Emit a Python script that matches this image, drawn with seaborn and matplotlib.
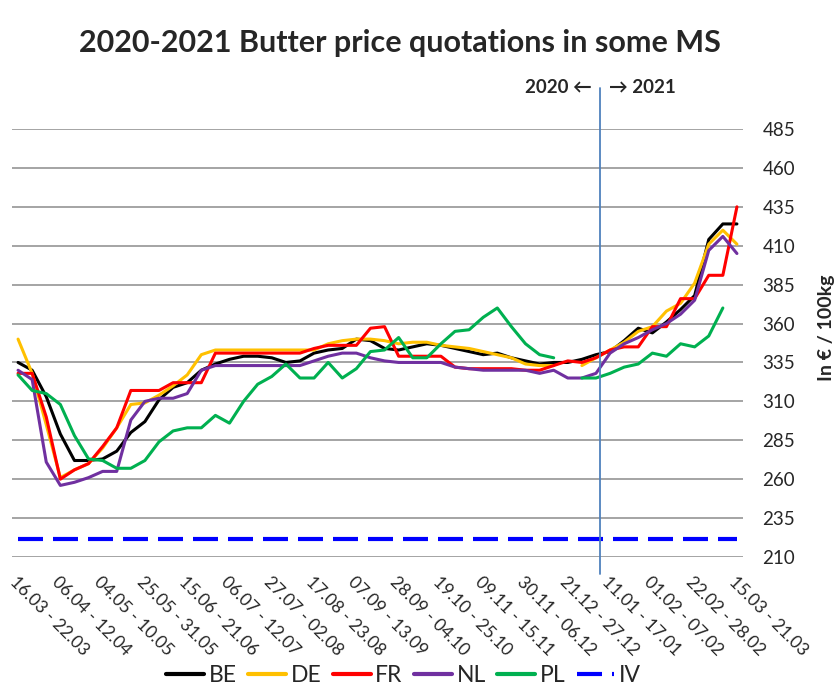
import numpy as np
import pandas as pd
import seaborn as sns
import matplotlib.pyplot as plt
from matplotlib.lines import Line2D

# weekly quotations, 52 weeks (one label every 3rd week)
week_labels = ["16.03 - 22.03", "06.04 - 12.04", "04.05 - 10.05", "25.05 - 31.05",
               "15.06 - 21.06", "06.07 - 12.07", "27.07 - 02.08", "17.08 - 23.08",
               "07.09 - 13.09", "28.09 - 04.10", "19.10 - 25.10", "09.11 - 15.11",
               "30.11 - 06.12", "21.12 - 27.12", "11.01 - 17.01", "01.02 - 07.02",
               "22.02 - 28.02", "15.03 - 21.03"]
nan = np.nan

be = [335, 330, 313, 289, 272, 272, 273, 278, 290, 297, 311, 319, 322,
      330, 334, 337, 339, 339, 338, 335, 336, 341, 343, 344, 350, 349,
      344, 343, 345, 347, 346, 344, 342, 340, 341, 338, 336, 334, 335,
      335, 337, 340, 342, 349, 357, 354, 361, 369, 378, 414, 424, 424]
de = [350, 328, 295, 261, 266, 270, 280, 293, 308, 309, 314, 320, 327,
      340, 343, 343, 343, 343, 343, 343, 343, 343, 347, 349, 350, 350,
      349, 347, 348, 348, 346, 345, 344, 342, 340, 338, 334, 333, 333,
      nan, 333, 338, 343, 348, 355, 358, 368, 373, 386, 411, 420, 411]
fr = [328, 328, 300, 260, 266, 270, 281, 293, 317, 317, 317, 322, 322,
      322, 341, 341, 341, 341, 341, 341, 341, 344, 346, 346, 346, 357,
      358, 339, 339, 339, 339, 332, 331, 331, 331, 331, 330, 330, 333,
      336, 335, 338, 343, 345, 345, 358, 358, 376, 376, 391, 391, 435]
nl = [330, 324, 271, 256, 258, 261, 265, 265, 298, 310, 312, 312, 315,
      330, 333, 333, 333, 333, 333, 333, 333, 336, 339, 341, 341, 338,
      336, 335, 335, 335, 335, 332, 331, 330, 330, 330, 330, 328, 330,
      325, 325, 328, 341, 347, 351, 356, 360, 366, 375, 407, 416, 405]
pl = [327, 317, 315, 308, 288, 273, 272, 267, 267, 272, 284, 291, 293,
      293, 301, 296, 310, 321, 326, 334, 325, 325, 335, 325, 331, 342,
      343, 351, 338, 338, 347, 355, 356, 364, 370, 358, 347, 340, 338,
      nan, 325, 325, 328, 332, 334, 341, 339, 347, 345, 352, 370, nan]
iv_price = 221.75  # intervention price

countries = ["BE", "DE", "FR", "NL", "PL"]
colors = {"BE": "#000000", "DE": "#FFC000", "FR": "#FF0000",
          "NL": "#7030A0", "PL": "#00B050"}
iv_color = "#0000FF"
year_break = 41.3  # position of the 2020/2021 separator (in weeks)

series = dict(zip(countries, [be, de, fr, nl, pl]))
rows = []
for c, vals in series.items():
    vals = np.asarray(vals, dtype=float)
    seg = np.cumsum(np.isnan(vals))
    for i, (v, s) in enumerate(zip(vals, seg)):
        if not np.isnan(v):
            rows.append((i, v, c, f"{c}{s}"))
df = pd.DataFrame(rows, columns=["week", "price", "country", "segment"])
n_weeks = len(be)
iv_df = pd.DataFrame({"week": np.arange(n_weeks), "price": [iv_price] * n_weeks})

sns.set_style("white")
plt.rcParams["font.family"] = ["Lato", "DejaVu Sans"]

fig = plt.figure(figsize=(8.34, 6.86), dpi=100)
ax = fig.add_axes([12 / 834, 1 - 557 / 686, 731 / 834, 428 / 686])

iv_dash = (0, (6, 2.4))
sns.lineplot(data=iv_df, x="week", y="price", color=iv_color, linewidth=3,
             linestyle=iv_dash, ax=ax)
sns.lineplot(data=df, x="week", y="price", hue="country", units="segment",
             estimator=None, palette=colors, hue_order=countries,
             linewidth=2.2, legend=False, ax=ax)

ax.set_xlim(-0.43, n_weeks - 1 + 0.43)
ax.set_ylim(210, 485)
ax.set_yticks(np.arange(210, 486, 25))
ax.yaxis.tick_right()
ax.grid(axis="y", color="#8C8C8C", linewidth=1.1)
ax.grid(axis="x", visible=False)
ax.set_axisbelow(True)
for sp in ax.spines.values():
    sp.set_visible(False)

ax.set_xticks(np.arange(0, n_weeks, 3))
ax.set_xticklabels(week_labels, rotation=-45, ha="left", va="top",
                   rotation_mode="anchor")
ax.tick_params(axis="x", length=0, pad=12, labelsize=12.5)
ax.tick_params(axis="y", length=0, pad=14, labelsize=13.5)
ax.set_xlabel("")
ax.set_ylabel("In € / 100kg", fontweight="bold", fontsize=14)
ax.yaxis.set_label_position("right")
ax.yaxis.set_label_coords(1.103, 0.535)

# separator between 2020 and 2021
ax.axvline(year_break, ymin=-0.04, ymax=1.096, color="#4F81BD",
           linewidth=1.3, clip_on=False)
tr = ax.get_xaxis_transform()
ax.annotate("2020 ←", xy=(year_break, 1.096), xycoords=tr, xytext=(-6, 0),
            textcoords="offset points", ha="right", va="center",
            fontweight="bold", fontsize=13.5, annotation_clip=False)
ax.annotate("→ 2021", xy=(year_break, 1.096), xycoords=tr, xytext=(6, 0),
            textcoords="offset points", ha="left", va="center",
            fontweight="bold", fontsize=13.5, annotation_clip=False)

fig.suptitle("2020-2021 Butter price quotations in some MS", x=0.48, y=0.937,
             va="center", fontweight="bold", fontsize=22)

handles = [Line2D([], [], color=colors[c], linewidth=3) for c in countries]
handles.append(Line2D([], [], color=iv_color, linewidth=3, linestyle=iv_dash))
fig.legend(handles, countries + ["IV"], loc="center", ncol=6, frameon=False,
           bbox_to_anchor=(0.484, 0.0146), fontsize=16.5, handlelength=1.65,
           handletextpad=0.2, columnspacing=0.5, borderpad=0.1)

fig.savefig("out.png", dpi=100)
